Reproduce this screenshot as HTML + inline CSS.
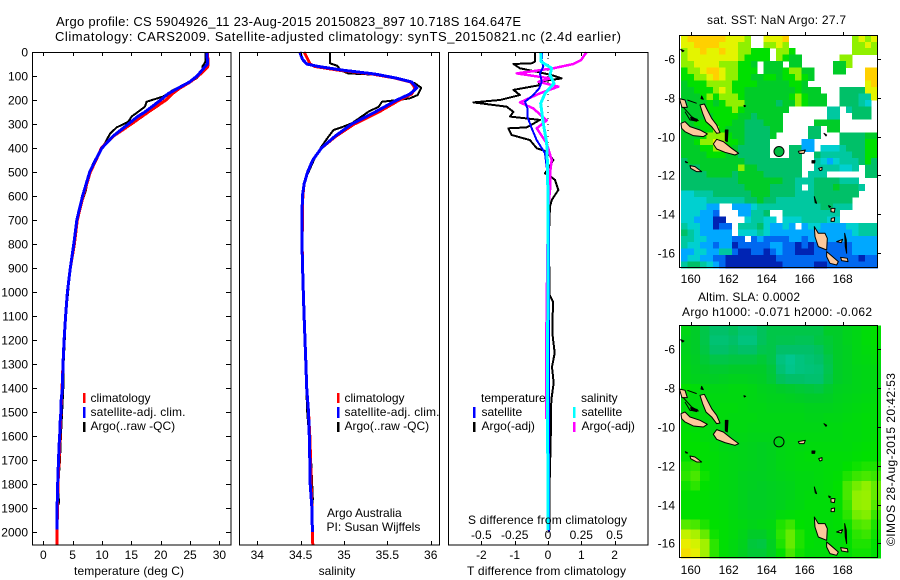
<!DOCTYPE html>
<html>
<head>
<meta charset="utf-8">
<title>Argo profile</title>
<style>
html,body{margin:0;padding:0;background:#fff}
svg{display:block}
text{font-family:"Liberation Sans",sans-serif;font-size:12px;fill:#000}
.frame{fill:none;stroke:#000;stroke-width:1}
</style>
</head>
<body>
<svg id="chart" width="900" height="580" viewBox="0 0 900 580" xmlns="http://www.w3.org/2000/svg">
<defs>
<g id="island-shapes" fill="#fcc89b" stroke="#000" stroke-width="3" stroke-linejoin="round">
<path d="M150,255 L163,252 L172,270 L185,295 L200,315 L210,338 L200,340 L185,320 L168,305 L158,280Z"/>
<path d="M93,310 L105,305 L120,320 L150,330 L172,342 L160,350 L130,347 L105,335 L95,325Z"/>
<path d="M190,372 L200,358 L220,365 L245,385 L266,400 L255,405 L225,397 L200,387Z"/>
<path d="M88,236 L105,240 L112,262 L96,262Z"/>
<path d="M112,240 L140,250 M100,262 L125,290 L145,302 L120,300 L105,275" fill="none"/>
<path d="M226,330 L234,330 L232,365 L226,362Z" fill="#000"/>
<path d="M120,437 L135,440 L155,455 L140,455 L122,445Z"/>
<path d="M122,292 L142,298 L140,304 L124,300Z" fill="#000"/>
<path d="M493,620 L505,640 L525,640 L532,655 L530,690 L505,680 L495,650Z"/>
<path d="M530,695 L542,705 L565,725 L560,735 L540,730 L530,710Z"/>
<path d="M543,565 L555,565 L553,577 L543,575Z"/>
<path d="M544,595 L554,593 L553,604 L543,604Z"/>
<path d="M560,665 L578,658 L574,668Z"/>
<path d="M445,394 L466,390 L462,400 L448,400Z"/>
<path d="M584,640 L589,660 L590,700 L586,680Z" fill="#000"/>
<path d="M572,712 L592,715 L594,725 L575,722Z"/>
<path d="M493,530 L500,550 L496,548Z" fill="#000"/>
<path d="M486,422 L495,422 L494,429 L486,429Z" fill="#000"/>
<path d="M506,445 L516,442 L516,450 L510,452Z"/>
<path d="M155,228 L160,238 L153,236Z" fill="#000"/>
<path d="M522,340 L530,345 L528,348Z" fill="#000"/>
<path d="M282,256 L287,258 L283,260Z" fill="#000"/>
<path d="M92,88 L102,92 L98,95Z" fill="#000"/>
<path d="M106,424 L113,428 L108,428Z" fill="#000"/>
<path d="M536,557 L542,560 L538,562Z" fill="#000"/>
</g>
</defs>

<text x="56" y="26" textLength="465" style="font-size:13px">Argo profile: CS 5904926_11 23-Aug-2015 20150823_897 10.718S 164.647E</text>
<text x="55" y="41" textLength="566" style="font-size:13px">Climatology: CARS2009. Satellite-adjusted climatology: synTS_20150821.nc (2.4d earlier)</text>

<g id="panel-temp"></g>
<g id="panel-sal"></g>
<g id="panel-diff"></g>
<g id="map-sst"></g>
<g id="map-sla"></g>

<text x="74" y="575" textLength="110">temperature (deg C)</text>
<text x="337" y="575" text-anchor="middle">salinity</text>
<text x="467" y="575" textLength="159">T difference from climatology</text>
<text x="468" y="524" textLength="159">S difference from climatology</text>

<g>
<rect x="83" y="393" width="2.5" height="10" fill="#f00"/>
<rect x="83" y="407" width="2.5" height="11" fill="#00f"/>
<rect x="83" y="422" width="2.5" height="10" fill="#000"/>
<text x="90.5" y="402">climatology</text>
<text x="90.5" y="416" textLength="95">satellite-adj. clim.</text>
<text x="90.5" y="430">Argo(..raw -QC)</text>
</g>
<g>
<rect x="337" y="393" width="2.5" height="10" fill="#f00"/>
<rect x="337" y="407" width="2.5" height="11" fill="#00f"/>
<rect x="337" y="422" width="2.5" height="10" fill="#000"/>
<text x="344.5" y="402">climatology</text>
<text x="344.5" y="416" textLength="95">satellite-adj. clim.</text>
<text x="344.5" y="430">Argo(..raw -QC)</text>
<text x="327" y="517">Argo Australia</text>
<text x="326.5" y="531">PI: Susan Wijffels</text>
</g>
<g>
<text x="481" y="402">temperature</text>
<text x="581" y="402">salinity</text>
<rect x="473" y="407" width="2.5" height="11" fill="#00f"/>
<rect x="473" y="422" width="2.5" height="10" fill="#000"/>
<rect x="573" y="407" width="2.5" height="11" fill="#0ff"/>
<rect x="573" y="422" width="2.5" height="10" fill="#f0f"/>
<text x="481.5" y="416">satellite</text>
<text x="481.5" y="430">Argo(-adj)</text>
<text x="581.5" y="416">satellite</text>
<text x="581.5" y="430">Argo(-adj)</text>
</g>

<text x="707" y="24" textLength="139">sat. SST: NaN Argo: 27.7</text>
<text x="698" y="301" textLength="102">Altim. SLA: 0.0002</text>
<text x="682" y="316" textLength="190">Argo h1000: -0.071 h2000: -0.062</text>
<text transform="translate(895,546) rotate(-90)" textLength="173">©IMOS 28-Aug-2015 20:42:53</text>
</svg>

<script>
// ---- profile data (depth in dbar, temperature in deg C, salinity in psu) ----
const climTempDepth = [0,50,62,75,100,125,150,175,200,250,300,350,400,450,500,600,700,800,900,1000,1100,1200,1300,1400,1500,1600,1700,1800,1900,2000,2054];
const climTemp = [27.95,28.1,28.0,27.5,26.4,25,23.3,21.9,20.9,17.9,15,12,9.9,9.0,8,6.8,5.8,5.3,4.6,4.1,3.8,3.55,3.35,3.2,3.0,2.85,2.7,2.5,2.4,2.35,2.3];
const satTempDepth = [0,50,60,100,125,150,175,200,250,270,300,350,400,450,500,600,700,800,900,1000,1100,1200,1300,1400,1450,1500,1550,1600,1650,1700,1750,1800,1900,1990];
const satTemp = [27.9,27.95,27.6,26.2,24.9,23,21.2,20,17.3,16,14.5,11.9,10,8.9,7.9,6.7,5.7,5.2,4.6,4.1,3.8,3.55,3.35,3.25,3.05,3.0,2.85,2.8,2.65,2.6,2.5,2.45,2.35,2.3];
const argoTempDepth = [0,40,50,60,82,89,110,137,158,186,207,228,269,290,314,339,380,415,464,512,575,630,686,755,900,1100,1300,1400,1500,1600,1700,1800,1880,1900,1990];
const argoTemp = [27.6,27.6,27.4,27.1,27.1,26.7,26.1,23.85,22.15,20.4,17.6,17.3,15.05,14.5,12.5,11.4,10.5,9.66,8.5,7.67,7.27,6.54,5.97,5.4,4.6,3.85,3.45,3.4,3.2,3.0,2.85,2.55,2.65,2.3,2.25];

const climSalDepth = [0,50,60,75,92,108,125,150,175,200,250,300,350,400,450,500,550,600,700,800,900,1000,1100,1200,1300,1400,1500,1600,1700,1800,1900,2000,2054];
const climSal = [34.54,34.61,34.66,34.92,35.33,35.58,35.77,35.82,35.78,35.64,35.4,35.12,34.91,34.74,34.64,34.58,34.54,34.525,34.52,34.517,34.523,34.53,34.54,34.55,34.56,34.57,34.59,34.605,34.615,34.62,34.63,34.635,34.64];
const satSalDepth = [0,30,50,60,75,92,108,125,150,175,200,250,300,350,400,450,500,550,600,700,800,900,1000,1100,1200,1300,1400,1500,1600,1700,1800,1900,2000];
const satSal = [34.49,34.52,34.57,34.7,34.97,35.36,35.59,35.78,35.84,35.76,35.61,35.36,35.09,34.9,34.74,34.64,34.58,34.54,34.52,34.515,34.515,34.523,34.53,34.54,34.55,34.56,34.57,34.59,34.6,34.605,34.61,34.63,34.635];
const argoSalDepth = [0,47,57,78,89,96,106,131,149,179,193,200,207,228,249,272,297,314,325,353,394,436,485,533,589,800,1000,1400,1500,1700,1860,1990];
const argoSal = [34.84,34.84,34.92,34.97,35.05,35.44,35.59,35.82,35.89,35.85,35.76,35.63,35.44,35.4,35.28,35.19,35.09,34.97,34.88,34.82,34.74,34.67,34.61,34.55,34.53,34.515,34.53,34.565,34.575,34.62,34.64,34.63];

// ---- difference panel data ----
const satTempDiffDepth = [0,33,61,89,124,151,179,207,235,269,318,367,422,478,536,700,1000,1400,2000];
const satTempDiff = [-0.17,-0.19,-0.14,-0.24,-0.19,-0.26,-0.44,-0.69,-0.62,-0.62,-0.49,-0.34,-0.09,-0.04,0,0.03,0.03,0.03,0.03];
const argoTempDiffDepth = [0,40,47,50,68,82,96,110,124,138,158,179,200,210,228,249,269,283,314,318,346,367,401,415,450,485,506,517,533,575,617,644,714,783,850,900,1012,1040,1170,1254,1312,1379,1450,1617,1783,1992];
const argoTempDiff = [-0.39,-0.39,-0.5,-1.04,-0.84,-0.34,0.1,0.41,-0.29,-0.24,-1.04,-0.84,-1.44,-2.24,-1.24,-1.04,-1.14,-0.24,-0.64,-1.19,-1.09,-0.54,-0.34,-0.04,0.16,0.01,-0.09,0.06,0.21,0.31,0.11,0.06,0.04,0.03,0.03,0.04,0.05,0.15,0.13,0.2,0.12,0.17,0.1,0.08,0.05,0.05];
const satSalDiffDepth = [0,40,68,96,131,172,214,297,380,500,800,1200,1600,1992];
const satSalDiff = [-0.055,-0.052,0.028,0.015,0.045,-0.022,-0.055,-0.035,-0.01,-0.002,0,-0.002,-0.002,0];
const argoSalDiffDepth = [0,33,50,68,89,110,124,144,172,210,235,285,318,381,450,506,575,644,800,1160,1530];
const argoSalDiff = [0.29,0.25,0.19,0.04,-0.235,0.015,-0.072,0.078,-0.06,-0.21,-0.11,-0.01,-0.085,-0.01,0.028,0.015,0.015,0.002,-0.004,-0.012,-0.012];

// ---- tick labels ----
const depthTicks = [0,100,200,300,400,500,600,700,800,900,1000,1100,1200,1300,1400,1500,1600,1700,1800,1900,2000];
const tempTicks = [0,5,10,15,20,25,30];
const salTicks = [34,34.5,35,35.5,36];
const tDiffTicks = [-2,-1,0,1,2];
const sDiffTicks = [-0.5,-0.25,0,0.25,0.5];
const lonTicks = [160,162,164,166,168];
const latTicks = [-6,-8,-10,-12,-14,-16];
const floatLon = [164.647];
const floatLat = [-10.718];

// ---- SST map: colour-bin of each 1/3 degree cell, 0 = no data ----
const sstGrid = [
[10,11,11,11,11,11,11,10,10,10,9,0,0,10,10,10,11,0,0,0,0,0,0,0,0,0,0,9,10,9,10],
[10,10,11,11,11,11,10,10,10,9,9,0,0,9,9,10,9,0,0,0,0,0,0,0,0,0,0,9,9,10,9],
[9,10,10,11,10,10,11,10,10,9,9,8,8,8,0,9,9,8,0,0,0,0,0,0,0,0,0,9,9,9,9],
[9,10,10,10,10,10,10,10,10,9,8,8,8,8,0,9,8,7,7,0,0,0,0,0,0,9,9,0,0,0,0],
[9,9,10,10,10,10,9,9,9,8,8,7,0,7,7,7,0,7,7,0,0,0,0,0,7,7,9,0,0,0,0],
[8,9,9,10,11,11,10,9,9,8,8,8,0,7,7,7,8,9,9,7,7,0,0,0,7,7,0,0,0,11,11],
[8,8,9,9,10,11,10,9,9,8,8,7,7,8,8,7,8,8,9,8,7,0,0,0,0,0,0,0,0,11,11],
[7,8,8,8,9,9,9,9,8,8,8,8,7,7,7,7,7,8,8,7,0,0,0,0,0,0,0,0,0,10,11],
[7,7,8,8,8,9,10,9,8,8,7,7,7,7,7,7,7,7,8,7,7,7,0,0,0,6,6,6,6,10,10],
[7,7,7,8,9,8,9,9,9,8,7,7,7,7,7,7,7,8,9,8,7,7,7,0,0,6,6,6,5,5,10],
[6,7,7,7,8,7,8,9,9,9,7,7,7,7,7,6,7,7,9,8,7,7,7,0,0,6,6,6,5,4,0],
[7,7,7,8,8,8,8,8,9,8,7,7,7,7,7,7,7,0,0,0,0,0,0,5,5,0,5,6,6,6,0],
[7,7,7,7,7,8,8,8,8,7,7,6,7,7,7,7,0,0,0,0,0,0,0,5,5,0,0,6,6,6,0],
[7,7,8,8,8,8,8,8,7,7,6,6,6,7,7,7,0,0,0,0,0,7,7,7,7,0,0,0,0,0,0],
[7,7,7,8,8,9,8,7,7,7,6,6,6,6,7,7,0,0,0,0,6,6,0,7,7,0,0,0,0,0,0],
[7,7,7,8,9,9,9,8,7,7,6,6,6,6,7,0,0,0,0,0,6,6,0,0,0,6,6,6,6,7,7],
[7,7,8,9,9,10,9,8,8,7,6,6,6,6,0,0,0,0,0,3,3,0,0,0,0,6,6,6,6,8,8],
[7,7,7,8,8,9,9,8,7,6,6,6,6,6,0,0,0,6,6,3,3,0,4,4,4,5,6,6,6,8,8],
[7,7,7,7,8,8,8,7,7,6,6,6,6,6,0,0,0,6,6,0,0,6,5,5,5,5,5,6,6,8,8],
[6,7,7,7,7,7,7,7,7,7,6,6,6,6,6,6,6,6,6,0,0,5,4,3,4,5,5,5,6,8,6],
[6,6,6,7,7,7,7,7,7,9,7,7,6,6,6,6,6,6,6,0,0,5,5,5,5,4,4,5,0,6,6],
[6,6,6,6,7,7,7,7,6,7,7,7,7,6,6,6,6,6,6,0,5,5,5,0,0,0,0,0,0,6,6],
[6,6,6,6,6,6,6,6,6,7,7,7,7,7,7,7,6,6,5,5,5,6,6,6,6,5,5,5,0,0,0],
[6,6,6,6,6,6,6,6,6,6,7,7,7,7,6,6,6,6,5,0,5,6,6,6,7,6,6,6,5,0,0],
[4,4,5,5,5,6,6,6,6,6,6,7,7,7,6,6,6,6,5,5,5,6,6,6,6,6,6,6,0,0,0],
[4,4,4,4,5,5,5,5,5,5,6,6,7,6,6,5,5,5,5,5,5,6,6,6,6,6,6,0,0,0,0],
[4,4,4,4,3,3,0,0,3,3,3,4,5,5,5,5,5,5,5,5,5,5,6,6,5,5,5,0,0,0,0],
[4,4,4,3,3,2,0,0,0,3,3,5,5,6,0,0,5,5,5,5,5,5,5,5,5,0,0,0,0,0,0],
[4,4,3,3,3,1,1,0,0,0,4,5,5,4,4,0,4,4,4,5,5,5,5,4,4,0,0,0,0,0,0],
[5,4,4,3,3,1,2,2,0,5,5,5,6,4,3,3,4,3,0,3,4,4,3,3,3,3,4,4,5,5,5],
[6,5,4,3,3,3,3,3,0,4,4,4,5,4,3,3,3,3,3,3,3,3,3,3,3,3,3,4,5,5,5],
[5,5,4,4,3,3,3,3,2,2,0,2,3,2,2,2,2,3,3,2,3,3,3,3,3,3,3,3,3,3,3],
[5,4,4,3,3,2,3,3,1,2,2,2,2,2,3,3,2,2,1,2,1,2,2,2,2,2,2,3,3,3,3],
[3,3,4,4,3,3,5,5,2,1,1,2,2,1,2,3,2,2,1,1,1,2,2,2,2,2,2,3,3,3,3],
[3,4,4,3,3,2,2,1,1,1,1,1,1,1,1,2,2,2,2,2,2,2,2,2,2,2,2,2,1,2,2],
[5,6,6,5,4,3,2,1,1,1,1,1,1,1,1,1,2,2,2,2,2,1,1,2,2,2,2,2,2,2,2]
];

// ---- SLA map: continuous colour-scale value of each 1/2 degree cell ----
const slaGrid = [
[7.5,7,6.5,6,6,6.2,5.8,5.8,6.2,6.5,6.5,6.5,6.5,6.5,6.5,7,7,7.3,7.5,7.8,8],
[7.3,7,6.5,5.8,5.8,6,5.6,5.6,6.2,6.5,6.4,6.4,6.3,6.3,6.6,6.8,7,7.3,7.5,7.8,8],
[7.3,7,6.6,6,6,6.2,6,6,6.4,6.5,6,6,6,6,6.2,6.7,7,7.2,7.5,7.7,7.9],
[7.4,7.1,6.8,6.5,6.5,6.6,6.6,6.6,6.8,6.5,5.6,5.3,5.6,5.8,6,6.5,7,7.2,7.5,7.6,7.8],
[7.5,7.2,7,6.9,6.9,7,7,7,7,6.7,5.8,5.4,5.6,5.7,5.8,6.4,7,7.2,7.4,7.5,7.6],
[7.5,7.3,7.2,7.1,7.2,7.3,7.3,7.2,7.1,6.8,6.2,6,6,5.9,5.9,6.5,7,7.2,7.4,7.5,7.6],
[8,7.8,7.6,7.5,7.5,7.6,7.6,7.5,7.3,7.2,7,6.9,6.8,6.7,6.6,6.9,7.2,7.3,7.4,7.5,7.6],
[7.8,7.7,7.6,7.6,7.6,7.6,7.6,7.5,7.4,7.3,7.3,7.2,7.1,7,7,7.1,7.3,7.4,7.5,7.6,7.7],
[7.8,7.7,7.6,7.6,7.7,7.7,7.6,7.5,7.5,7.4,7.4,7.4,7.4,7.3,7.3,7.3,7.4,7.5,7.6,7.7,7.8],
[7.8,7.8,7.7,7.7,7.7,7.6,7.6,7.6,7.5,7.5,7.5,7.5,7.5,7.4,7.4,7.5,7.5,7.6,7.7,7.8,7.8],
[7.9,7.8,7.7,7.6,7.5,7.6,7.6,7.5,7.5,7.5,7.5,7.5,7.5,7.5,7.5,7.6,7.6,7.7,7.7,7.8,7.8],
[8,7.9,7.7,7.6,7.4,7.4,7.5,7.4,7.4,7.4,7.5,7.6,7.6,7.6,7.6,7.6,7.6,7.7,7.7,7.8,7.9],
[8,8,7.9,7.7,7.5,7.4,7.4,7.3,7.2,7.3,7.5,7.6,7.6,7.7,7.7,7.7,7.7,7.7,7.8,7.9,8],
[8,8,7.9,7.8,7.6,7.5,7.4,7.3,7.2,7.3,7.5,7.6,7.7,7.8,7.8,7.8,7.8,7.8,7.9,8,8],
[8.2,8.3,8,7.8,7.6,7.5,7.4,7.3,7.2,7.3,7.5,7.6,7.7,7.7,7.7,7.8,7.8,8,8.1,8.2,8.2],
[8.3,8.5,8.1,7.8,7.6,7.5,7.3,7.2,7.2,7.3,7.4,7.5,7.6,7.6,7.7,7.8,7.9,8.2,8.4,8.5,8.4],
[8.1,8.3,8,7.8,7.6,7.5,7.3,7.2,7.1,7.2,7.3,7.4,7.6,7.6,7.7,7.8,8,8.5,8.8,9,8.7],
[8,8,7.9,7.7,7.6,7.5,7.3,7.1,7.1,7.2,7.3,7.4,7.6,7.7,7.7,7.8,8,8.5,9,9.1,8.7],
[8,8,7.9,7.8,7.7,7.5,7.3,7.1,7.1,7.2,7.3,7.5,7.6,7.8,7.8,7.8,8,8.4,9,9.1,8.6],
[8,8,8,7.9,7.8,7.6,7.4,7.3,7.3,7.4,7.7,7.8,7.9,7.9,7.8,7.8,8,8.3,8.8,8.9,8.4],
[8.6,8.5,8.2,8,7.9,7.7,7.6,7.4,7.5,7.6,8.2,8.4,8,7.9,7.8,7.8,7.9,8.1,8.5,8.6,8.2],
[9.6,9.3,8.7,8.1,7.9,7.7,7.4,7,7,7.4,8.3,8.7,8.2,7.9,7.8,7.8,7.8,8,8.3,8.4,8.1],
[10.2,9.8,9.2,8.3,7.9,7.6,7.3,6.7,6.6,7.2,8.2,8.7,8.2,7.9,7.8,7.8,7.8,8,8.2,8.2,8],
[10.6,10.1,9.2,8.3,7.9,7.6,7.2,6.8,6.8,7.2,8,8.5,8.1,7.8,7.8,7.8,7.8,7.9,8.1,8.1,7.9]
];

const NS = 'http://www.w3.org/2000/svg';
function mk(parent, tag, attrs) {
  const el = document.createElementNS(NS, tag);
  for (const k in attrs) el.setAttribute(k, attrs[k]);
  parent.appendChild(el);
  return el;
}

// ---- axis functions ----
const PROFILE_TOP = 52, PROFILE_BOTTOM = 545;
function yDepth(d) { return 52 + 0.24 * d; }
function xTemp(t) { return 43.3 + 5.87 * t; }
function xSal(s) { return 257.3 + 86.7 * (s - 34); }
function xTDiff(t) { return 548 + 33.3 * t; }
function xSDiff(s) { return 548 + 133.2 * s; }
function xLon(lon) { return 690.7 + 19 * (lon - 160); }
function yLatA(lat) { return 59 + 19.4 * (-6 - lat); }
function yLatB(lat) { return 349.3 + 19.4 * (-6 - lat); }

function series(parent, depths, values, xf, color, width, name) {
  const pts = depths.map((d, i) => xf(values[i]).toFixed(1) + ',' + yDepth(d).toFixed(1)).join(' ');
  const el = mk(parent, 'polyline', {points: pts, fill: 'none', stroke: color, 'stroke-width': width, 'stroke-linejoin': 'round', 'shape-rendering': 'crispEdges'});
  
  
  return el;
}
function tickLine(parent, x1, y1, x2, y2) {
  const el = mk(parent, 'line', {x1: x1, y1: y1, x2: x2, y2: y2, stroke: '#000', 'stroke-width': 1, 'shape-rendering': 'crispEdges'});
  
  
}
function tickText(parent, x, y, anchor, str) {
  const el = mk(parent, 'text', {x: x, y: y, 'text-anchor': anchor});
  el.textContent = str;
  
  
}
function frame(parent, x, y, w, h) {
  const el = mk(parent, 'rect', {x: x, y: y, width: w, height: h, 'class': 'frame', 'shape-rendering': 'crispEdges'});
  
  
}
function xTicksBoth(parent, ticks, xf, labels) {
  ticks.forEach((t, i) => {
    const x = Math.round(xf(t)) + 0.5;
    tickLine(parent, x, PROFILE_TOP, x, PROFILE_TOP + 4);
    tickLine(parent, x, PROFILE_BOTTOM - 4, x, PROFILE_BOTTOM);
    tickText(parent, xf(t), 559, 'middle', labels ? labels[i] : String(t));
  });
}

// ---- temperature panel ----
const gT = document.getElementById('panel-temp');
series(gT, argoTempDepth, argoTemp, xTemp, '#000', 2, 'argo-temperature-line');
series(gT, climTempDepth, climTemp, xTemp, '#f00', 3, 'climatology-temperature-line');
series(gT, satTempDepth, satTemp, xTemp, '#00f', 3, 'satellite-temperature-line');
frame(gT, 32.5, 52.5, 198.5, 492.5);
xTicksBoth(gT, tempTicks, xTemp);
depthTicks.forEach(d => {
  const y = Math.round(yDepth(d)) + 0.5;
  tickLine(gT, 32, y, 37, y);
  tickLine(gT, 226, y, 231, y);
  tickText(gT, 28, y + 4, 'end', String(d));
});

// ---- salinity panel ----
const gS = document.getElementById('panel-sal');
series(gS, argoSalDepth, argoSal, xSal, '#000', 2, 'argo-salinity-line');
series(gS, climSalDepth, climSal, xSal, '#f00', 3, 'climatology-salinity-line');
series(gS, satSalDepth, satSal, xSal, '#00f', 3, 'satellite-salinity-line');
frame(gS, 239.5, 52.5, 200, 492.5);
xTicksBoth(gS, salTicks, xSal);

// ---- difference panel ----
const gD = document.getElementById('panel-diff');
const zero = mk(gD, 'line', {x1: xTDiff(0), y1: 52, x2: xTDiff(0), y2: 545, stroke: '#000', 'stroke-dasharray': '1 5', 'stroke-width': 1});


series(gD, argoTempDiffDepth, argoTempDiff, xTDiff, '#000', 2, 'argo-t-difference-line');
series(gD, argoSalDiffDepth, argoSalDiff, xSDiff, '#f0f', 2.5, 'argo-s-difference-line');
series(gD, satTempDiffDepth, satTempDiff, xTDiff, '#00f', 2, 'satellite-t-difference-line');
series(gD, satSalDiffDepth, satSalDiff, xSDiff, '#0ff', 3, 'satellite-s-difference-line');
frame(gD, 448.5, 52.5, 199.5, 492.5);
xTicksBoth(gD, tDiffTicks, xTDiff);
sDiffTicks.forEach(s => tickText(gD, xSDiff(s), 539, 'middle', String(s)));

// ---- maps ----
const binColors = ['#ffffff','#0024b4','#0068f0','#00a8ff','#00d0d0','#00c8a0','#00c068','#00cc28','#00e000','#90f000','#e4f400','#ffd000'];
function scaleColor(v) {
  const lo = Math.floor(v), hi = Math.min(11, lo + 1), f = v - lo;
  const a = binColors[lo], b = binColors[hi];
  const c = [1, 3, 5].map(p => Math.round(parseInt(a.substr(p, 2), 16) * (1 - f) + parseInt(b.substr(p, 2), 16) * f));
  return 'rgb(' + c.join(',') + ')';
}
function drawGrid(parent, grid, step, lat0, yf, name) {
  grid.forEach((row, j) => row.forEach((v, i) => {
    if (!v) return;
    const x0 = xLon(159.5 + i * step), x1 = xLon(159.5 + (i + 1) * step);
    const y0 = yf(lat0 - j * step), y1 = yf(lat0 - (j + 1) * step);
    const el = mk(parent, 'rect', {x: x0.toFixed(2), y: y0.toFixed(2), width: (x1 - x0 + 0.3).toFixed(2), height: (y1 - y0 + 0.3).toFixed(2), fill: scaleColor(v), 'shape-rendering': 'crispEdges'});
    
    
  }));
}
function drawMap(id, grid, step, yf, top, bottom, islandDy, labelY, fillCircle, cellName) {
  const g = document.getElementById(id);
  drawGrid(g, grid, step, -6 + (59 - 35.3) / 19.4, yf, cellName);
  const isl = mk(g, 'use', {href: '#island-shapes', transform: 'translate(650,' + islandDy + ') scale(0.3333)'});
  
  
  const c = mk(g, 'circle', {cx: xLon(floatLon[0]), cy: yf(floatLat[0]) + 1, r: 5, fill: fillCircle, stroke: '#000', 'stroke-width': 1});
  
  
  frame(g, 679.5, top + 0.5, 198, bottom - top);
  lonTicks.forEach(l => {
    const x = Math.round(xLon(l)) + 0.5;
    tickLine(g, x, top - 3, x, top);
    tickText(g, xLon(l), labelY, 'middle', String(l));
  });
  latTicks.forEach(l => {
    const y = Math.round(yf(l)) + 0.5;
    tickLine(g, 878, y, 881, y);
    tickText(g, 675, y + 4, 'end', String(l));
  });
}
drawMap('map-sst', sstGrid, 1 / 3, yLatA, 35, 267, 20, 283, '#00bb40', 'sst-cell');
drawMap('map-sla', slaGrid, 1 / 2, yLatB, 325, 557, 310.33, 574, 'none', 'sla-cell');
</script>
</body>
</html>
